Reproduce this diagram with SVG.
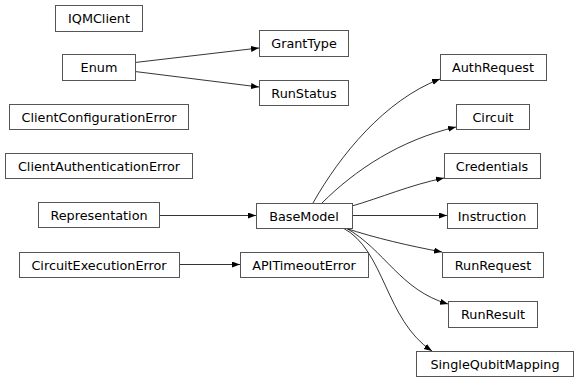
<svg xmlns="http://www.w3.org/2000/svg" width="575" height="381" viewBox="0 0 575 381">
  <style>
    .node rect { fill: #ffffff; stroke: #555555; stroke-width: 1; }
    .node text { font-family: "DejaVu Sans", sans-serif; font-size: 12.8px; fill: #000000; text-anchor: middle; }
    .edges path { fill: none; stroke: #000000; stroke-width: 0.8; marker-end: url(#arrow); }
  </style>
  <defs>
    <marker id="arrow" markerUnits="userSpaceOnUse" markerWidth="9" markerHeight="7" refX="8" refY="3" orient="auto">
      <path d="M0,0 L8,3 L0,6 z" fill="#000000"/>
    </marker>
  </defs>
  <rect width="575" height="381" fill="#ffffff"/>

  <g class="edges">
    <path d="M135,62.5 L259,48"/>
    <path d="M135,71.5 L259,87"/>
    <path d="M159,215.5 L256,215.5"/>
    <path d="M179,264.5 L240,264.5"/>
    <path d="M313,203 C340,155 385,100 440,79"/>
    <path d="M322,203 C355,170 400,140 456,127"/>
    <path d="M352,206 C380,198 410,185 444,178"/>
    <path d="M352,215.5 L447,215.5"/>
    <path d="M345,228 C375,238 410,246 442,252"/>
    <path d="M346,228 C385,250 400,290 448,304"/>
    <path d="M343,228 C385,250 385,320 432,351"/>
  </g>

  <g id="IQMClient" class="node"><rect x="55.5" y="5.5" width="87" height="26"/><text x="99" y="23">IQMClient</text></g>
  <g id="Enum" class="node"><rect x="62.5" y="54.5" width="73" height="26"/><text x="99" y="72">Enum</text></g>
  <g id="ClientConfigurationError" class="node"><rect x="9.5" y="104.5" width="179" height="25"/><text x="99" y="121.5">ClientConfigurationError</text></g>
  <g id="ClientAuthenticationError" class="node"><rect x="5.5" y="153.5" width="187" height="25"/><text x="99" y="170.5">ClientAuthenticationError</text></g>
  <g id="Representation" class="node"><rect x="38.5" y="202.5" width="121" height="25"/><text x="99" y="219.5">Representation</text></g>
  <g id="CircuitExecutionError" class="node"><rect x="19.5" y="252.5" width="160" height="25"/><text x="99" y="269.5">CircuitExecutionError</text></g>
  <g id="GrantType" class="node"><rect x="259.5" y="30.5" width="89" height="26"/><text x="304" y="48">GrantType</text></g>
  <g id="RunStatus" class="node"><rect x="259.5" y="80.5" width="89" height="25"/><text x="304" y="97.5">RunStatus</text></g>
  <g id="BaseModel" class="node"><rect x="256.5" y="203.5" width="96" height="25"/><text x="304" y="220.5">BaseModel</text></g>
  <g id="APITimeoutError" class="node"><rect x="240.5" y="252.5" width="128" height="25"/><text x="304" y="269.5">APITimeoutError</text></g>
  <g id="AuthRequest" class="node"><rect x="440.5" y="54.5" width="106" height="26"/><text x="493" y="72">AuthRequest</text></g>
  <g id="Circuit" class="node"><rect x="456.5" y="104.5" width="73" height="25"/><text x="493" y="121.5">Circuit</text></g>
  <g id="Credentials" class="node"><rect x="444.5" y="153.5" width="96" height="25"/><text x="492" y="170.5">Credentials</text></g>
  <g id="Instruction" class="node"><rect x="447.5" y="203.5" width="90" height="25"/><text x="492" y="220.5">Instruction</text></g>
  <g id="RunRequest" class="node"><rect x="442.5" y="252.5" width="101" height="25"/><text x="493" y="269.5">RunRequest</text></g>
  <g id="RunResult" class="node"><rect x="448.5" y="301.5" width="89" height="26"/><text x="493" y="319">RunResult</text></g>
  <g id="SingleQubitMapping" class="node"><rect x="416.5" y="351.5" width="157" height="25"/><text x="495" y="368.5">SingleQubitMapping</text></g>
</svg>
